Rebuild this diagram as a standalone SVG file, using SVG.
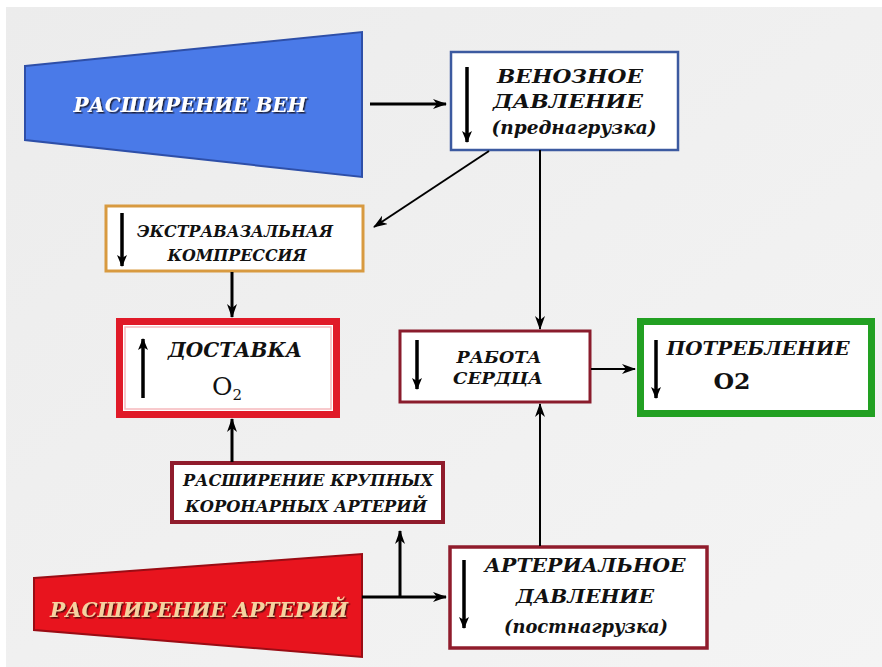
<svg xmlns="http://www.w3.org/2000/svg" width="882" height="667" viewBox="0 0 882 667">
<defs>
<linearGradient id="bg" x1="0" y1="0" x2="1" y2="1">
<stop offset="0" stop-color="#ececec"/>
<stop offset="1" stop-color="#f4f4f4"/>
</linearGradient>
<marker id="ah" viewBox="0 0 14 10" refX="13" refY="5" markerWidth="14" markerHeight="10" markerUnits="userSpaceOnUse" orient="auto">
<path d="M0,0 L14,5 L0,10 L4,5 z" fill="#000"/>
</marker>
<marker id="ahs" viewBox="0 0 12 10" refX="11" refY="5" markerWidth="12" markerHeight="10" markerUnits="userSpaceOnUse" orient="auto">
<path d="M0,0 L12,5 L0,10 L3,5 z" fill="#000"/>
</marker>
<filter id="shB" x="-5%" y="-20%" width="110%" height="150%">
<feDropShadow dx="1.5" dy="1.5" stdDeviation="0.4" flood-color="#1a2040" flood-opacity="1"/>
</filter>
<filter id="shR" x="-5%" y="-20%" width="110%" height="150%">
<feDropShadow dx="1.5" dy="1.5" stdDeviation="0.4" flood-color="#5a0808" flood-opacity="1"/>
</filter>
<style>
.t{font-family:"DejaVu Serif","Liberation Serif",serif;font-style:italic;font-weight:bold;fill:#111;text-anchor:middle}
.o{font-family:"DejaVu Serif","Liberation Serif",serif;fill:#111;text-anchor:middle}
.c{fill:none;stroke:#000;stroke-width:3}
.cl{fill:none;stroke:#000;stroke-width:2}
.ind{fill:none;stroke:#000;stroke-width:3.5}
.box{fill:#fff}
</style>
</defs>
<rect x="0" y="0" width="882" height="667" fill="#fff"/>
<rect x="6" y="7" width="876" height="660" fill="url(#bg)"/>

<g id="rasshirenie-ven">
<polygon points="25,66 362,32 362,177 25,140" fill="#4a7ae8" stroke="#2e4fa8" stroke-width="2"/>
<text class="t" x="190" y="112" font-size="20" style="fill:#fff" filter="url(#shB)" textLength="233" lengthAdjust="spacingAndGlyphs">РАСШИРЕНИЕ ВЕН</text>
</g>

<g id="venoznoe">
<rect class="box" x="451" y="52" width="227" height="98" stroke="#3c5aa0" stroke-width="2.5"/>
<line class="ind" x1="467" y1="67" x2="467" y2="142" marker-end="url(#ahs)"/>
<text class="t" x="570" y="83" font-size="19" textLength="146" lengthAdjust="spacingAndGlyphs">ВЕНОЗНОЕ</text>
<text class="t" x="568" y="108" font-size="19" textLength="150" lengthAdjust="spacingAndGlyphs">ДАВЛЕНИЕ</text>
<text class="t" x="574" y="134" font-size="19" textLength="165" lengthAdjust="spacingAndGlyphs">(преднагрузка)</text>
</g>

<g id="ekstravazalnaya">
<rect class="box" x="106" y="206" width="257" height="65" stroke="#d89a40" stroke-width="3"/>
<line class="ind" x1="122" y1="213" x2="122" y2="266" marker-end="url(#ahs)"/>
<text class="t" x="235" y="237" font-size="16" textLength="196" lengthAdjust="spacingAndGlyphs">ЭКСТРАВАЗАЛЬНАЯ</text>
<text class="t" x="237" y="261" font-size="16" textLength="139" lengthAdjust="spacingAndGlyphs">КОМПРЕССИЯ</text>
</g>

<g id="dostavka">
<rect class="box" x="119.5" y="321.5" width="217" height="93" stroke="#e01a28" stroke-width="7"/>
<rect x="125" y="327" width="206" height="82" fill="none" stroke="#f6b8bc" stroke-width="1.5"/>
<line class="ind" x1="143" y1="398" x2="143" y2="339" marker-end="url(#ahs)"/>
<text class="t" x="235" y="357" font-size="20" textLength="134" lengthAdjust="spacingAndGlyphs">ДОСТАВКА</text>
<text class="o" x="227" y="395" font-size="25">O<tspan font-size="15" dy="5">2</tspan></text>
</g>

<g id="rabota">
<rect class="box" x="400" y="331" width="190" height="71" stroke="#8a1c2c" stroke-width="3"/>
<line class="ind" x1="417" y1="340" x2="417" y2="389" marker-end="url(#ahs)"/>
<text class="t" x="499" y="363" font-size="17" textLength="85" lengthAdjust="spacingAndGlyphs">РАБОТА</text>
<text class="t" x="498" y="384" font-size="17" textLength="90" lengthAdjust="spacingAndGlyphs">СЕРДЦА</text>
</g>

<g id="potreblenie">
<rect class="box" x="640.5" y="321.5" width="231" height="92" stroke="#22a022" stroke-width="7"/>
<line class="ind" x1="656" y1="340" x2="656" y2="398" marker-end="url(#ahs)"/>
<text class="t" x="758" y="355" font-size="18" textLength="183" lengthAdjust="spacingAndGlyphs">ПОТРЕБЛЕНИЕ</text>
<text class="o" x="732" y="389" font-weight="bold" font-size="22" textLength="37" lengthAdjust="spacingAndGlyphs">O2</text>
</g>

<g id="koronarnye">
<rect class="box" x="172" y="463" width="271" height="59" stroke="#901c2c" stroke-width="4"/>
<text class="t" x="308" y="486" font-size="16" textLength="250" lengthAdjust="spacingAndGlyphs">РАСШИРЕНИЕ КРУПНЫХ</text>
<text class="t" x="306" y="512" font-size="16" textLength="242" lengthAdjust="spacingAndGlyphs">КОРОНАРНЫХ АРТЕРИЙ</text>
</g>

<g id="rasshirenie-arteriy">
<polygon points="34,578 362,554 362,657 34,630" fill="#e8141e" stroke="#9a0c14" stroke-width="2"/>
<text class="t" x="199" y="617" font-size="20" style="fill:#f6d2a0" filter="url(#shR)" textLength="298" lengthAdjust="spacingAndGlyphs">РАСШИРЕНИЕ АРТЕРИЙ</text>
</g>

<g id="arterialnoe">
<rect class="box" x="450" y="547" width="257" height="101" stroke="#901c2c" stroke-width="3.5"/>
<line class="ind" x1="464" y1="560" x2="464" y2="628" marker-end="url(#ahs)"/>
<text class="t" x="585" y="572" font-size="19" textLength="201" lengthAdjust="spacingAndGlyphs">АРТЕРИАЛЬНОЕ</text>
<text class="t" x="585" y="603" font-size="19" textLength="138" lengthAdjust="spacingAndGlyphs">ДАВЛЕНИЕ</text>
<text class="t" x="586" y="633" font-size="19" textLength="164" lengthAdjust="spacingAndGlyphs">(постнагрузка)</text>
</g>

<g id="connectors">
<line class="c" x1="370" y1="104" x2="446" y2="104" marker-end="url(#ah)"/>
<line class="cl" x1="489" y1="151" x2="374" y2="227" marker-end="url(#ah)"/>
<line class="cl" x1="540" y1="150" x2="540" y2="329" marker-end="url(#ah)"/>
<line class="c" x1="232" y1="272" x2="232" y2="317" marker-end="url(#ah)"/>
<line class="c" x1="232" y1="462" x2="232" y2="419" marker-end="url(#ah)"/>
<line class="cl" x1="591" y1="369" x2="635" y2="369" marker-end="url(#ah)"/>
<line class="cl" x1="540" y1="546" x2="540" y2="404" marker-end="url(#ah)"/>
<line class="c" x1="362" y1="597" x2="446" y2="597" marker-end="url(#ah)"/>
<line class="c" x1="400" y1="597" x2="400" y2="531" marker-end="url(#ah)"/>
</g>
</svg>
